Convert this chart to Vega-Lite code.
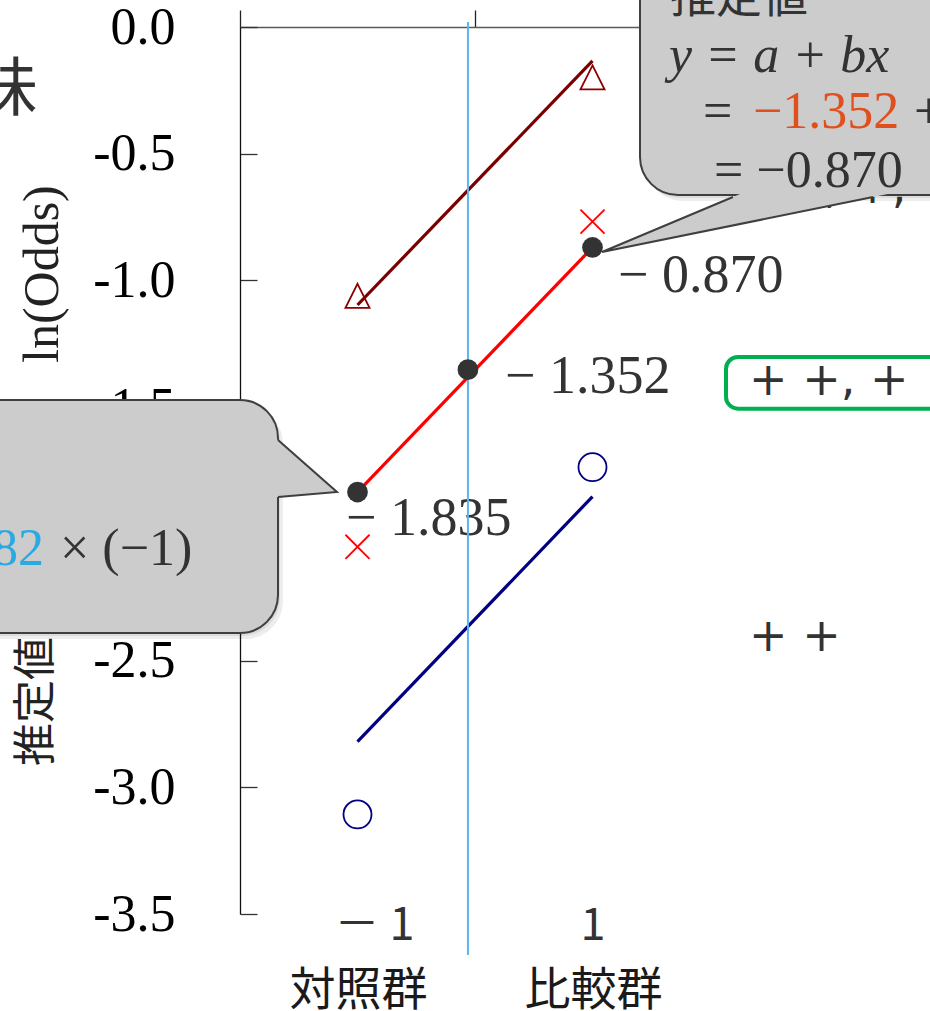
{
  "$schema": "https://vega.github.io/schema/vega-lite/v6.json",
  "width": 470,
  "height": 887,
  "autosize": {"type": "none"},
  "padding": {"left": 240, "top": 27, "right": 220, "bottom": 97},
  "background": "white",
  "config": {"view": {"stroke": null}},
  "datasets": {
    "fit": [
      {"series": "+, +, +", "x": -1, "y": -1.097},
      {"series": "+, +, +", "x": 1, "y": -0.134},
      {"series": "+ +, +", "x": -1, "y": -1.835},
      {"series": "+ +, +", "x": 1, "y": -0.870},
      {"series": "+ +", "x": -1, "y": -2.820},
      {"series": "+ +", "x": 1, "y": -1.853}
    ],
    "obs": [
      {"series": "+, +, +", "x": -1, "y": -1.061},
      {"series": "+, +, +", "x": 1, "y": -0.199},
      {"series": "+ +, +", "x": -1, "y": -2.051},
      {"series": "+ +, +", "x": 1, "y": -0.768},
      {"series": "+ +", "x": -1, "y": -3.107},
      {"series": "+ +", "x": 1, "y": -1.737}
    ],
    "est": [
      {"x": -1, "y": -1.835, "label": "− 1.835"},
      {"x": -0.06, "y": -1.352, "label": "− 1.352"},
      {"x": 1, "y": -0.870, "label": "− 0.870"}
    ],
    "marker": [{"x": -0.06, "y": 0.02, "y2": -3.662}],
    "seriesLabels": [
      {"series": "+ +, +", "x": 2.3319, "y": -1.4505},
      {"series": "+ +", "x": 2.3319, "y": -2.4606},
      {"series": "+, +, +", "x": 2.6426, "y": -0.6945}
    ],
    "highlight": [{"x": 2.1362, "x2": 4.5, "y": -1.3021, "y2": -1.5061}],
    "callouts": [
      {"x": -4.5, "x2": -1.6766, "y": -1.4718, "y2": -2.3912},
      {"x": 1.4043, "x2": 4.5, "y": 0.3, "y2": -0.6629}
    ],
    "pointerL": [
      {"x": -1.7021, "y": -1.6194, "y2": -1.8557},
      {"x": -1.1745, "y": -1.8348, "y2": -1.8348}
    ],
    "edgeL": [
      {"k": 0, "x": -1.6766, "y": -1.6296},
      {"k": 1, "x": -1.1745, "y": -1.8348},
      {"k": 2, "x": -1.6766, "y": -1.8546}
    ],
    "pointerR": [
      {"y": -0.655, "x": 2.2766, "x2": 3.5549},
      {"y": -0.8878, "x": 1.0809, "x2": 1.0809}
    ],
    "edgeR": [
      {"k": 0, "x": 2.1957, "y": -0.6708},
      {"k": 1, "x": 1.0809, "y": -0.8878},
      {"k": 2, "x": 3.3872, "y": -0.6708}
    ],
    "notes": [
      {"id": "R1", "x": 1.6596, "y": 0.0592, "t": "推定値"},
      {"id": "R2", "x": 1.6511, "y": -0.1776, "t": "y = a + bx"},
      {"id": "R3a", "x": 1.9404, "y": -0.3985, "t": "="},
      {"id": "R3b", "x": 2.366, "y": -0.3985, "t": "−1.352"},
      {"id": "R3c", "x": 3.7362, "y": -0.3985, "t": "+ 0.482 × 1"},
      {"id": "R4", "x": 2.034, "y": -0.6313, "t": "= −0.870"},
      {"id": "L3b", "x": -3.6681, "y": -2.1229, "t": "0.482"},
      {"id": "L3c", "x": -3.5319, "y": -2.1229, "t": "× (−1)"},
      {"id": "Yt1", "x": -3.7277, "y": -2.916, "t": "推定値 対数オッズ"},
      {"id": "Yt2", "x": -3.6766, "y": -1.3258, "t": "ln(Odds)"},
      {"id": "M", "x": -3.7191, "y": -0.3275, "t": "意味"}
    ],
    "groups": [
      {"x": -1, "y": -3.5, "code": "－ 1", "name": "対照群"},
      {"x": 1, "y": -3.5, "code": "1", "name": "比較群"}
    ]
  },
  "encoding": {
    "x": {
      "field": "x", "type": "quantitative",
      "scale": {"domain": [-2, 2], "nice": false, "zero": false},
      "axis": {
        "orient": "top", "values": [-2, 0, 2], "labels": false, "grid": false, "title": null,
        "tickSize": 17, "tickColor": "#222", "tickWidth": 1.3,
        "domainColor": "#5a5a5a", "domainWidth": 1.4
      }
    },
    "y": {
      "field": "y", "type": "quantitative",
      "scale": {"domain": [-3.5, 0], "nice": false, "zero": false},
      "axis": {
        "orient": "left", "values": [0, -0.5, -1, -1.5, -2, -2.5, -3, -3.5],
        "grid": false, "title": null,
        "tickSize": -17, "tickColor": "#333", "tickWidth": 1.3,
        "domainColor": "#111", "domainWidth": 1.3,
        "labelFont": "Liberation Serif", "labelFontSize": 52, "labelColor": "#000",
        "labelPadding": 82, "labelOverlap": false,
        "labelExpr": "replace(format(datum.value, '.1f'), '−', '-')"
      }
    }
  },
  "layer": [
    {
      "data": {"name": "fit"},
      "mark": {"type": "line", "strokeWidth": 3.2},
      "encoding": {
        "color": {
          "field": "series", "type": "nominal", "legend": null,
          "scale": {"domain": ["+, +, +", "+ +, +", "+ +"], "range": ["#7a0000", "#ff0000", "#000080"]}
        }
      }
    },
    {
      "data": {"name": "obs"},
      "mark": {"type": "point", "filled": false, "size": 784, "strokeWidth": 1.8, "opacity": 1},
      "encoding": {
        "shape": {
          "field": "series", "type": "nominal", "legend": null,
          "scale": {
            "domain": ["+, +, +", "+ +, +", "+ +"],
            "range": ["M0,-0.86L0.86,0.86L-0.86,0.86Z", "M-0.86,-0.86L0.86,0.86M-0.86,0.86L0.86,-0.86", "circle"]
          }
        },
        "stroke": {
          "field": "series", "type": "nominal", "legend": null,
          "scale": {"domain": ["+, +, +", "+ +, +", "+ +"], "range": ["#8b0000", "#ff0000", "#000080"]}
        }
      }
    },
    {
      "data": {"name": "est"},
      "transform": [{"filter": "datum.x == -1"}],
      "mark": {"type": "text", "align": "left", "baseline": "alphabetic", "dx": -11.5, "dy": 43, "font": "Liberation Serif", "fontSize": 54, "color": "#333"},
      "encoding": {"text": {"field": "label"}}
    },
    {
      "data": {"name": "est"},
      "transform": [{"filter": "datum.y == -1.352"}],
      "mark": {"type": "text", "align": "left", "baseline": "alphabetic", "dx": 37, "dy": 23.4, "font": "Liberation Serif", "fontSize": 54, "color": "#333"},
      "encoding": {"text": {"field": "label"}}
    },
    {
      "data": {"name": "est"},
      "transform": [{"filter": "datum.x == 1"}],
      "mark": {"type": "text", "align": "left", "baseline": "alphabetic", "dx": 25.5, "dy": 44.5, "font": "Liberation Serif", "fontSize": 54, "color": "#333"},
      "encoding": {"text": {"field": "label"}}
    },
    {
      "data": {"name": "marker"},
      "mark": {"type": "rule", "color": "#5cb6ee", "strokeWidth": 2},
      "encoding": {"y2": {"field": "y2"}}
    },
    {
      "data": {"name": "est"},
      "mark": {"type": "point", "filled": true, "shape": "circle", "size": 430, "color": "#333", "opacity": 1}
    },
    {
      "data": {"name": "seriesLabels"},
      "mark": {"type": "text", "align": "left", "baseline": "alphabetic", "font": "DejaVu Sans", "fontSize": 46, "color": "#333"},
      "encoding": {"text": {"field": "series"}}
    },
    {
      "data": {"name": "highlight"},
      "mark": {"type": "rect", "fill": null, "stroke": "#00b050", "strokeWidth": 4, "cornerRadius": 12},
      "encoding": {"x2": {"field": "x2"}, "y2": {"field": "y2"}}
    },
    {
      "data": {"name": "notes"},
      "transform": [{"filter": "datum.id == 'Yt1'"}],
      "mark": {"type": "text", "angle": 270, "align": "left", "baseline": "middle", "font": "Noto Sans CJK JP", "fontSize": 43, "color": "#222"},
      "encoding": {"text": {"field": "t"}}
    },
    {
      "data": {"name": "notes"},
      "transform": [{"filter": "datum.id == 'Yt2'"}],
      "mark": {"type": "text", "angle": 270, "align": "left", "baseline": "middle", "font": "Liberation Serif", "fontSize": 50, "color": "#222"},
      "encoding": {"text": {"field": "t"}}
    },
    {
      "data": {"name": "notes"},
      "transform": [{"filter": "datum.id == 'M'"}],
      "mark": {"type": "text", "align": "right", "baseline": "alphabetic", "font": "Noto Sans CJK JP", "fontSize": 64, "color": "#333"},
      "encoding": {"text": {"field": "t"}}
    },
    {
      "data": {"name": "callouts"},
      "mark": {"type": "rect", "fill": "#000", "opacity": 0.07, "cornerRadius": 38, "xOffset": 2, "x2Offset": 2, "yOffset": 3, "y2Offset": 3},
      "encoding": {"x2": {"field": "x2"}, "y2": {"field": "y2"}}
    },
    {
      "data": {"name": "callouts"},
      "mark": {"type": "rect", "fill": "#000", "opacity": 0.07, "cornerRadius": 38, "xOffset": 5, "x2Offset": 5, "yOffset": 6, "y2Offset": 6},
      "encoding": {"x2": {"field": "x2"}, "y2": {"field": "y2"}}
    },
    {
      "data": {"name": "callouts"},
      "mark": {"type": "rect", "fill": "#cccccc", "stroke": "#3f3f3f", "strokeWidth": 2, "cornerRadius": 38},
      "encoding": {"x2": {"field": "x2"}, "y2": {"field": "y2"}}
    },
    {
      "data": {"name": "pointerL"},
      "mark": {"type": "area", "orient": "vertical", "color": "#cccccc", "opacity": 1},
      "encoding": {"y2": {"field": "y2"}}
    },
    {
      "data": {"name": "pointerR"},
      "mark": {"type": "area", "orient": "horizontal", "color": "#cccccc", "opacity": 1},
      "encoding": {"x2": {"field": "x2"}}
    },
    {
      "data": {"name": "edgeL"},
      "mark": {"type": "line", "color": "#3f3f3f", "strokeWidth": 2},
      "encoding": {"order": {"field": "k"}}
    },
    {
      "data": {"name": "edgeR"},
      "mark": {"type": "line", "color": "#3f3f3f", "strokeWidth": 2},
      "encoding": {"order": {"field": "k"}}
    },
    {
      "data": {"name": "notes"},
      "transform": [{"filter": "datum.id == 'R1'"}],
      "mark": {"type": "text", "align": "left", "baseline": "alphabetic", "font": "Noto Sans CJK JP", "fontSize": 46, "color": "#333"},
      "encoding": {"text": {"field": "t"}}
    },
    {
      "data": {"name": "notes"},
      "transform": [{"filter": "datum.id == 'R2'"}],
      "mark": {"type": "text", "align": "left", "baseline": "alphabetic", "font": "Liberation Serif", "fontStyle": "italic", "fontSize": 52, "color": "#333"},
      "encoding": {"text": {"field": "t"}}
    },
    {
      "data": {"name": "notes"},
      "transform": [{"filter": "indexof(['R3a', 'R3c', 'R4', 'L3c'], datum.id) >= 0"}],
      "mark": {"type": "text", "align": "left", "baseline": "alphabetic", "font": "Liberation Serif", "fontSize": 52, "color": "#333"},
      "encoding": {"text": {"field": "t"}}
    },
    {
      "data": {"name": "notes"},
      "transform": [{"filter": "datum.id == 'R3b'"}],
      "mark": {"type": "text", "align": "left", "baseline": "alphabetic", "font": "Liberation Serif", "fontSize": 52, "color": "#e0501e"},
      "encoding": {"text": {"field": "t"}}
    },
    {
      "data": {"name": "notes"},
      "transform": [{"filter": "datum.id == 'L3b'"}],
      "mark": {"type": "text", "align": "right", "baseline": "alphabetic", "font": "Liberation Serif", "fontSize": 52, "color": "#2aaae2"},
      "encoding": {"text": {"field": "t"}}
    },
    {
      "data": {"name": "groups"},
      "transform": [{"filter": "datum.x == -1"}],
      "mark": {"type": "text", "align": "center", "baseline": "alphabetic", "dx": 17, "dy": 26, "font": "Noto Sans CJK JP", "fontSize": 45, "color": "#333"},
      "encoding": {"text": {"field": "code"}}
    },
    {
      "data": {"name": "groups"},
      "transform": [{"filter": "datum.x == 1"}],
      "mark": {"type": "text", "align": "center", "baseline": "alphabetic", "dx": 0.5, "dy": 26, "font": "Noto Sans CJK JP", "fontSize": 45, "color": "#333"},
      "encoding": {"text": {"field": "code"}}
    },
    {
      "data": {"name": "groups"},
      "mark": {"type": "text", "align": "center", "baseline": "alphabetic", "dx": 1, "dy": 91, "font": "Noto Sans CJK JP", "fontSize": 46, "color": "#1a1a1a"},
      "encoding": {"text": {"field": "name"}}
    }
  ]
}
